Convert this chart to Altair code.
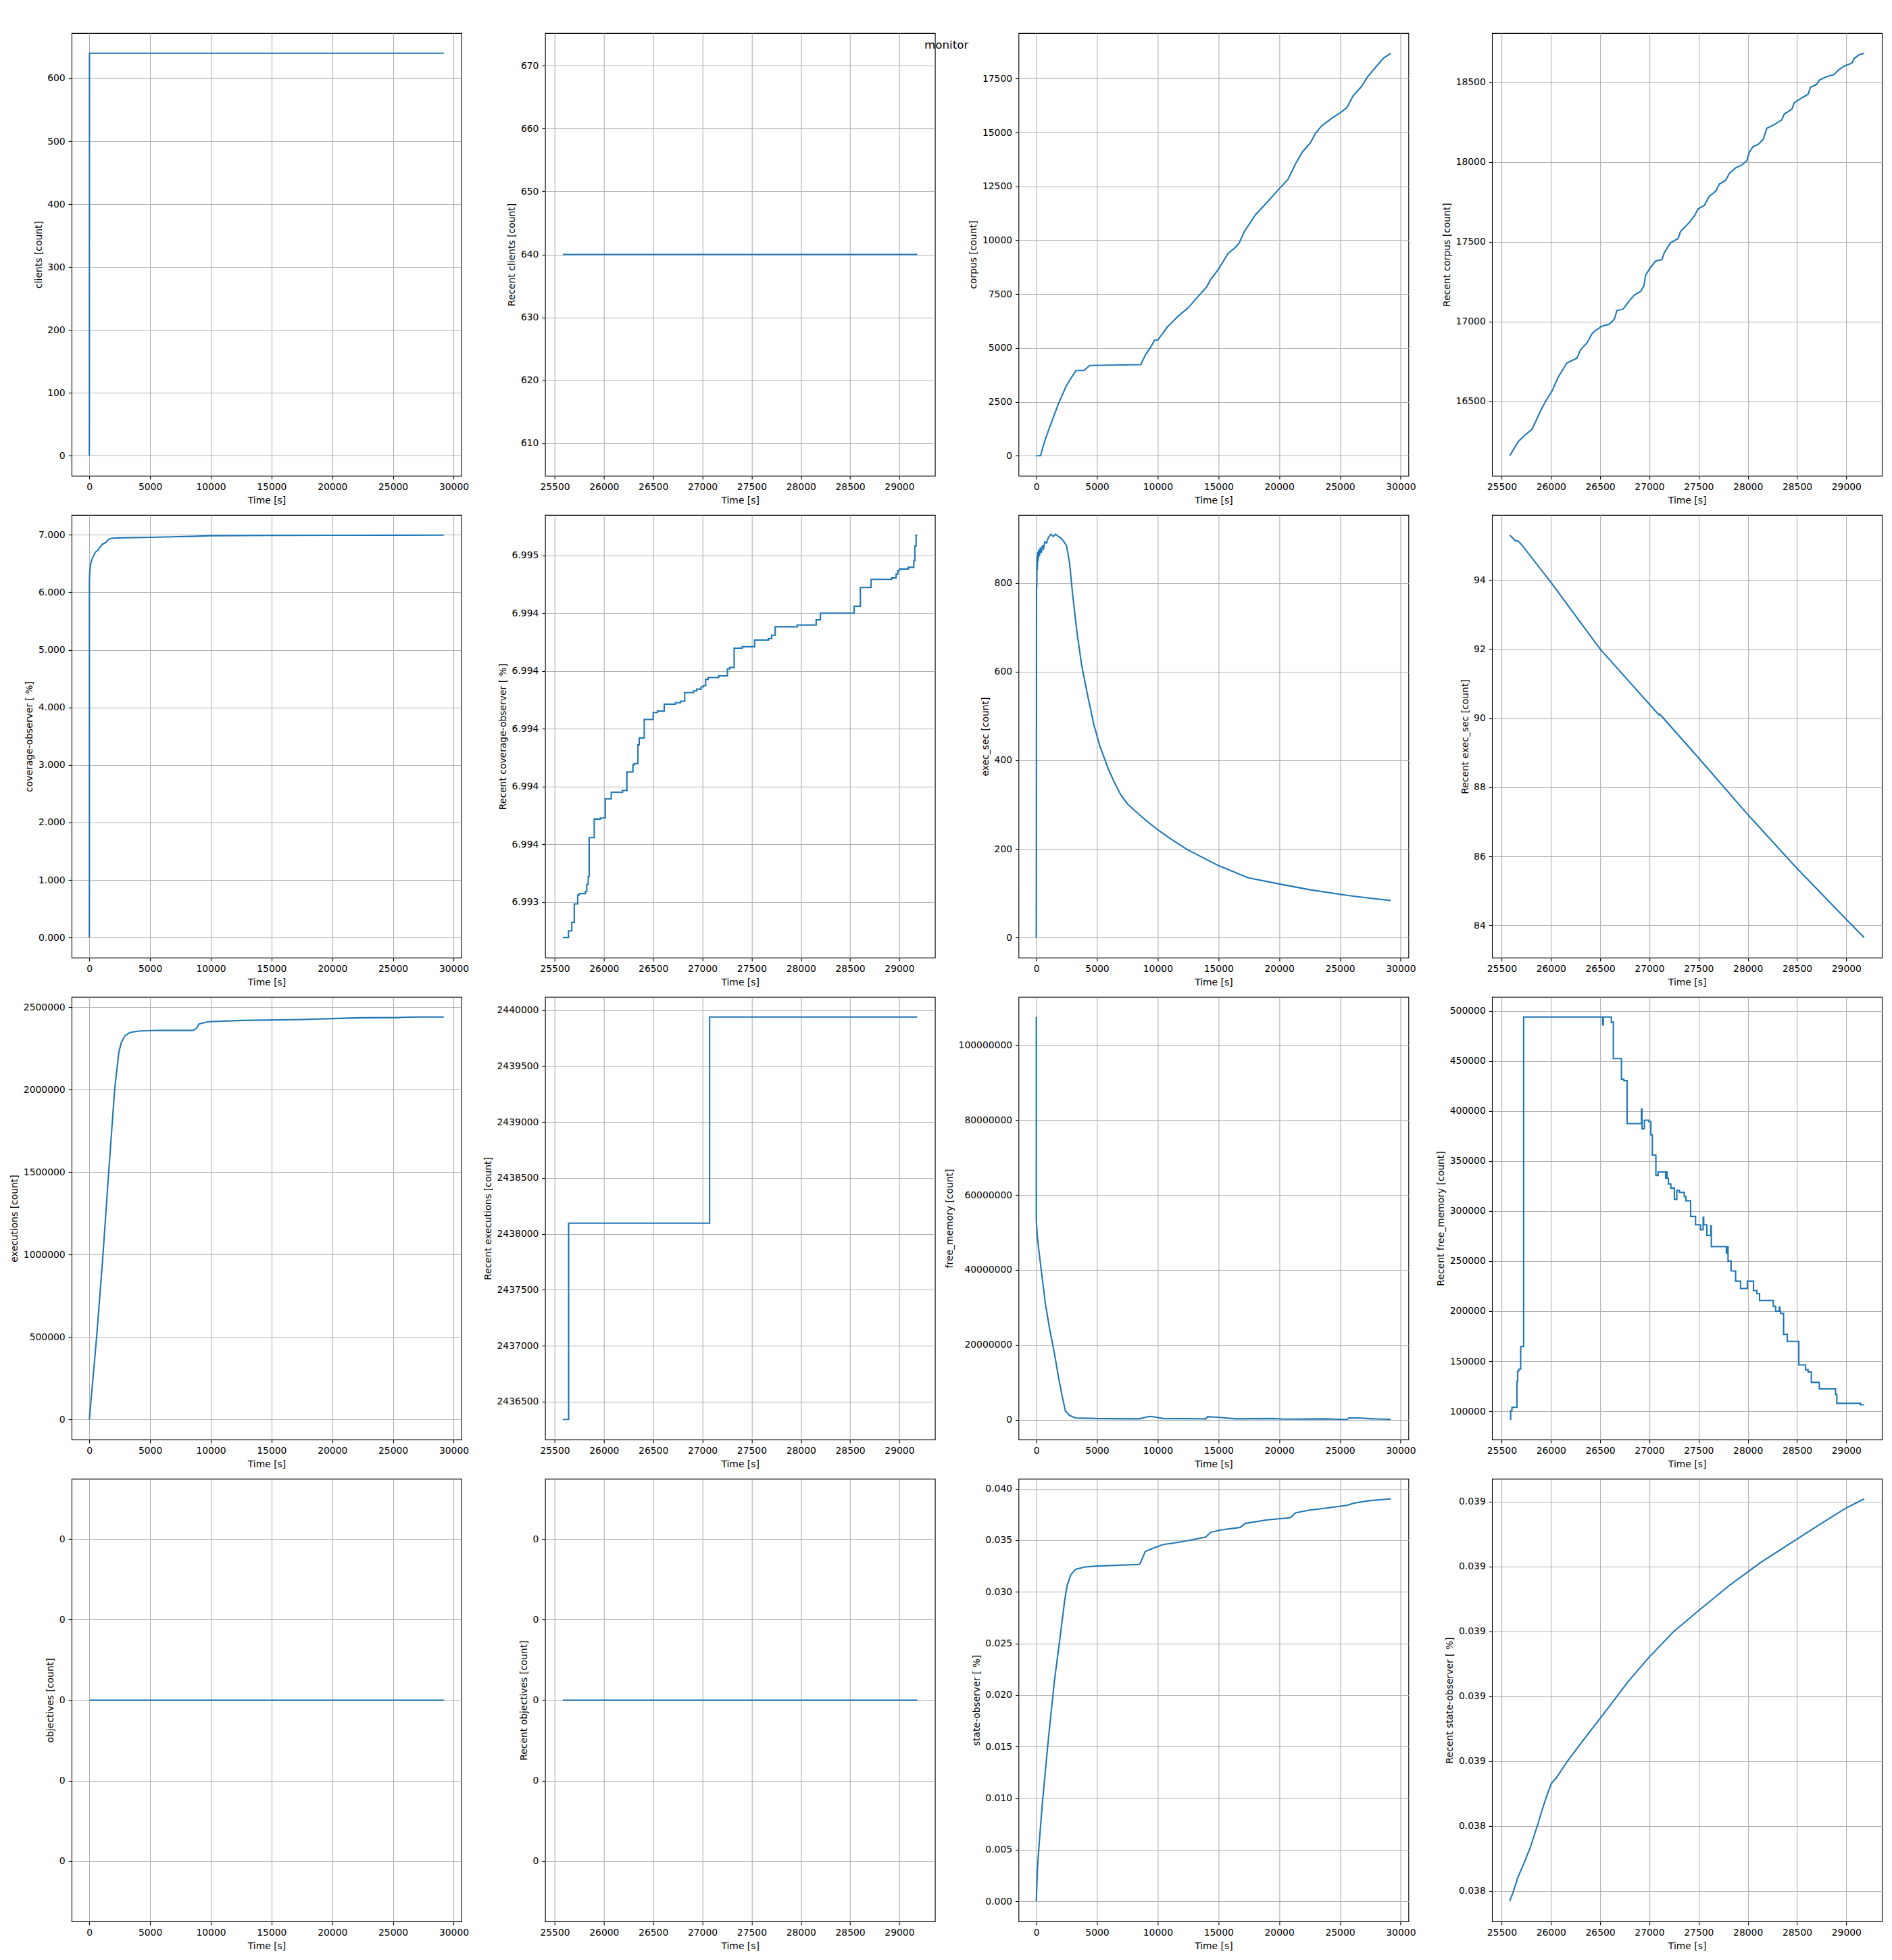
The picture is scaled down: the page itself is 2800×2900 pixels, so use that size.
import json
import altair as alt
import pandas as pd

BLUE = "#1f77b4"
SUPTITLE = "monitor"
X_TITLE = "Time [s]"

# ---------------- x axes ----------------
FULL_X_DOMAIN = [-1459.1, 30641.1]
FULL_X_TICKS = [0, 5000, 10000, 15000, 20000, 25000, 30000]
FULL_X_LABELS = ["0", "5000", "10000", "15000", "20000", "25000", "30000"]
RECENT_X_DOMAIN = [25402.0, 29362.0]
RECENT_X_TICKS = [25500, 26000, 26500, 27000, 27500, 28000, 28500, 29000]
RECENT_X_LABELS = ["25500", "26000", "26500", "27000", "27500", "28000", "28500", "29000"]

# ---------------- clients ----------------
clients_t = [0, 10, 29182]
clients_v = [0, 640, 640]
clients_ticks = [0, 100, 200, 300, 400, 500, 600]
clients_labels = ["0", "100", "200", "300", "400", "500", "600"]
clients_domain = [-32, 672]

rclients_t = [25582, 29182]
rclients_v = [640, 640]
rclients_ticks = [610, 620, 630, 640, 650, 660, 670]
rclients_labels = ["610", "620", "630", "640", "650", "660", "670"]
rclients_domain = [604.8, 675.2]

# ---------------- corpus ----------------
corpus_t = [0, 349, 677, 1109, 1827, 2443, 2854, 3264, 3921, 4393, 8602, 9013, 9423, 9731,
            9998, 10758, 11682, 12503, 13324, 14043, 14350, 14966, 15788, 16404, 16711,
            17122, 18046, 18867, 19996, 20715, 21331, 21946, 22562, 22973, 23486, 24410,
            25026, 25582, 26053, 26771, 27284, 28105, 28619, 29182]
corpus_v = [0, 0, 654, 1334, 2420, 3205, 3597, 3950, 3950, 4186, 4225, 4709, 5036, 5363,
            5363, 5951, 6475, 6867, 7390, 7848, 8175, 8633, 9378, 9679, 9875, 10399, 11183,
            11680, 12387, 12818, 13537, 14126, 14519, 14950, 15303, 15696, 15918, 16160,
            16677, 17135, 17593, 18142, 18469, 18681]
corpus_ticks = [0, 2500, 5000, 7500, 10000, 12500, 15000, 17500]
corpus_labels = ["0", "2500", "5000", "7500", "10000", "12500", "15000", "17500"]
corpus_domain = [-934, 19615]

rcorpus_t = [25582, 25668, 25731, 25807, 25845, 25896, 25947, 26010, 26074, 26162, 26264,
             26302, 26365, 26416, 26454, 26518, 26594, 26645, 26670, 26733, 26797, 26848,
             26911, 26944, 26962, 27000, 27063, 27127, 27152, 27216, 27292, 27317, 27406,
             27457, 27495, 27558, 27609, 27673, 27711, 27774, 27812, 27876, 27939, 27990,
             28015, 28053, 28104, 28155, 28193, 28269, 28345, 28370, 28447, 28472, 28561,
             28612, 28637, 28700, 28726, 28802, 28878, 28916, 28980, 29056, 29081, 29132,
             29182]
rcorpus_v = [16160, 16248, 16286, 16325, 16374, 16443, 16502, 16564, 16652, 16741, 16771,
             16824, 16865, 16922, 16945, 16971, 16984, 17016, 17069, 17078, 17131, 17166,
             17189, 17223, 17290, 17329, 17379, 17388, 17432, 17494, 17520, 17565, 17621,
             17662, 17706, 17728, 17786, 17816, 17862, 17884, 17928, 17963, 17981, 18008,
             18061, 18096, 18110, 18140, 18211, 18234, 18264, 18300, 18330, 18371, 18406,
             18424, 18468, 18486, 18512, 18535, 18548, 18574, 18601, 18619, 18649, 18672,
             18681]
rcorpus_ticks = [16500, 17000, 17500, 18000, 18500]
rcorpus_labels = ["16500", "17000", "17500", "18000", "18500"]
rcorpus_domain = [16034, 18807]

# ---------------- coverage-observer ----------------
cov_t = [0, 5, 30, 100, 250, 500, 700, 850, 1100, 1340, 1580, 1830, 2330, 5050, 8500,
         10000, 15000, 20000, 25582, 29182]
cov_v = [0, 6.19, 6.35, 6.487, 6.595, 6.70, 6.73, 6.78, 6.84, 6.865, 6.92, 6.94, 6.946,
         6.957, 6.973, 6.985, 6.990, 6.992, 6.99328, 6.99467]
cov_ticks = [0, 1, 2, 3, 4, 5, 6, 7]
cov_labels = ["0.000", "1.000", "2.000", "3.000", "4.000", "5.000", "6.000", "7.000"]
cov_domain = [-0.3497, 7.3444]

rcov_t = [25582, 25640, 25673, 25698, 25733, 25749, 25812, 25825, 25840, 25850, 25901,
          25964, 26013, 26074, 26188, 26233, 26294, 26307, 26345, 26358, 26409, 26500,
          26543, 26612, 26726, 26777, 26820, 26909, 26942, 26987, 27010, 27033, 27058,
          27165, 27254, 27277, 27322, 27404, 27530, 27670, 27703, 27739, 27962, 28155,
          28198, 28541, 28604, 28713, 28921, 28967, 28985, 29002, 29091, 29147, 29158,
          29170, 29182]
rcov_v = [6.993277, 6.993300, 6.993329, 6.993393, 6.993424, 6.993429, 6.993437, 6.993461,
          6.993488, 6.993623, 6.993687, 6.993691, 6.993757, 6.993780, 6.993786, 6.993850,
          6.993875, 6.993879, 6.993944, 6.993968, 6.994032, 6.994056, 6.994061, 6.994085,
          6.994090, 6.994095, 6.994125, 6.994131, 6.994137, 6.994145, 6.994149, 6.994171,
          6.994177, 6.994183, 6.994207, 6.994212, 6.994279, 6.994284, 6.994307, 6.994312,
          6.994324, 6.994353, 6.994359, 6.994377, 6.994400, 6.994424, 6.994489, 6.994517,
          6.994522, 6.994535, 6.994548, 6.994553, 6.994559, 6.994582, 6.994633, 6.994670,
          6.994670]
rcov_ticks = [6.9934, 6.9936, 6.9938, 6.9940, 6.9942, 6.9944, 6.9946]
rcov_labels = ["6.993", "6.994", "6.994", "6.994", "6.994", "6.994", "6.995"]
rcov_domain = [6.993207, 6.994740]

# ---------------- exec_sec ----------------
exec_t = [0, 20, 40, 60, 80, 120, 150, 200, 260, 330, 420, 500, 600, 700, 850, 1000,
          1200, 1400, 1600, 1800, 2000, 2200, 2492, 2741, 2990, 3339, 3737, 4236, 4734,
          5232, 5980, 6500, 6976, 7500, 8000, 8471, 9000, 9500, 9966, 11000, 12458, 14949,
          17441, 20000, 22500, 25582, 27500, 29182]
exec_v = [0, 796, 790, 860, 830, 870, 850, 875, 860, 880, 868, 885, 878, 893, 890, 903,
          910, 905, 910, 905, 902, 896, 884, 845, 775, 691, 614, 545, 481, 432, 377, 346,
          321, 302, 289, 278, 265, 254, 244, 224, 198, 163, 135, 121, 108, 95.3, 88.8,
          83.65]
exec_ticks = [0, 200, 400, 600, 800]
exec_labels = ["0", "200", "400", "600", "800"]
exec_domain = [-45.4, 953.4]

rexec_t = [25582, 25645, 25660, 25700, 26000, 26500, 27080, 27095, 27105, 27500, 28000,
           28500, 29000, 29182]
rexec_v = [95.30, 95.12, 95.14, 95.03, 93.93, 92.0, 90.15, 90.10, 90.12, 88.85, 87.21,
           85.65, 84.18, 83.65]
rexec_ticks = [84, 86, 88, 90, 92, 94]
rexec_labels = ["84", "86", "88", "90", "92", "94"]
rexec_domain = [83.07, 95.88]

# ---------------- executions ----------------
execs_t = [0, 596, 1093, 1589, 2086, 2434, 2633, 2931, 3328, 4073, 5563, 8543, 8800, 9040,
           9785, 12517, 17484, 19968, 22452, 25582, 25641, 27073, 29182]
execs_v = [0, 497000, 967600, 1494700, 2003000, 2228900, 2285400, 2326800, 2345600,
           2355000, 2358800, 2358800, 2370000, 2398300, 2411500, 2419000, 2424700, 2430300,
           2435500, 2436341, 2438096, 2439939, 2439939]
execs_ticks = [0, 500000, 1000000, 1500000, 2000000, 2500000]
execs_labels = ["0", "500000", "1000000", "1500000", "2000000", "2500000"]
execs_domain = [-121997, 2561937]

rexecs_t = [25582, 25641, 27073, 29182]
rexecs_v = [2436341, 2438096, 2439939, 2439939]
rexecs_ticks = [2436500, 2437000, 2437500, 2438000, 2438500, 2439000, 2439500, 2440000]
rexecs_labels = ["2436500", "2437000", "2437500", "2438000", "2438500", "2439000",
                 "2439500", "2440000"]
rexecs_domain = [2436161, 2440119]

# ---------------- free_memory ----------------
mem_t = [0, 1, 100, 249, 498, 747, 1096, 1495, 1844, 2143, 2392, 2741, 3239, 4983, 8471,
         8970, 9368, 9717, 10464, 13952, 14100, 14949, 16444, 19434, 20430, 23669, 25582,
         25740, 26600, 27500, 28500, 29182]
mem_v = [107500000, 53300000, 48300000, 44200000, 37600000, 31000000, 24300000, 17700000,
         11100000, 6100000, 2400000, 1160000, 500000, 330000, 250000, 660000, 900000,
         750000, 330000, 250000, 830000, 660000, 250000, 330000, 170000, 250000, 92000,
         494000, 494000, 290000, 170000, 107000]
mem_ticks = [0, 20000000, 40000000, 60000000, 80000000, 100000000]
mem_labels = ["0", "20000000", "40000000", "60000000", "80000000", "100000000"]
mem_domain = [-5280000, 112870000]

rmem_t = [25582, 25591, 25604, 25655, 25662, 25673, 25693, 25723, 26525, 26532, 26614,
          26634, 26716, 26741, 26774, 26919, 26925, 26949, 26995, 27015, 27030, 27066,
          27089, 27165, 27175, 27180, 27193, 27218, 27254, 27279, 27305, 27355, 27371,
          27419, 27469, 27520, 27546, 27552, 27584, 27624, 27629, 27782, 27790, 27799,
          27830, 27876, 27926, 27995, 28058, 28091, 28119, 28259, 28282, 28320, 28326,
          28332, 28363, 28401, 28518, 28586, 28612, 28645, 28726, 28891, 28904, 29145,
          29182]
rmem_v = [91800, 100550, 103940, 129900, 140100, 142100, 164700, 493800, 485900, 493800,
          488700, 452300, 431600, 430200, 387300, 402000, 382200, 390700, 389300, 376000,
          355900, 335600, 339000, 332800, 339000, 332800, 327100, 322900, 311600, 320600,
          318600, 314400, 310200, 294600, 286200, 281400, 293800, 286200, 275700, 285300,
          264400, 258000, 264400, 250000, 240100, 229900, 222600, 229900, 220600, 217500,
          210700, 204800, 200000, 204200, 200000, 197700, 176800, 169800, 146300, 141500,
          139300, 128800, 122300, 116700, 107900, 106500, 106500]
rmem_ticks = [100000, 150000, 200000, 250000, 300000, 350000, 400000, 450000, 500000]
rmem_labels = ["100000", "150000", "200000", "250000", "300000", "350000", "400000",
               "450000", "500000"]
rmem_domain = [71700, 513900]

# ---------------- objectives ----------------
obj_t = [0, 29182]
obj_v = [0, 0]
robj_t = [25582, 29182]
robj_v = [0, 0]
obj_ticks = [-0.04, -0.02, 0, 0.02, 0.04]
obj_labels = ["0", "0", "0", "0", "0"]
obj_domain = [-0.055, 0.055]

# ---------------- state-observer ----------------
state_t = [0, 100, 249, 498, 997, 1495, 1993, 2342, 2541, 2840, 3239, 3986, 4983, 8471,
           8571, 8970, 9717, 10464, 11959, 13952, 14351, 15198, 16793, 17192, 18935, 20929,
           21328, 22424, 23918, 25582, 26161, 27407, 29182]
state_v = [0, 0.00325, 0.00575, 0.0095, 0.01576, 0.02139, 0.02592, 0.02921, 0.03061,
           0.03164, 0.03218, 0.0324, 0.03249, 0.03265, 0.0328, 0.0339, 0.03427, 0.03458,
           0.03484, 0.0353, 0.03577, 0.03599, 0.03624, 0.03662, 0.03696, 0.03718, 0.03765,
           0.0379, 0.03812, 0.038384, 0.038596, 0.03883, 0.039004]
state_ticks = [0, 0.005, 0.010, 0.015, 0.020, 0.025, 0.030, 0.035, 0.040]
state_labels = ["0.000", "0.005", "0.010", "0.015", "0.020", "0.025", "0.030", "0.035",
                "0.040"]
state_domain = [-0.00195, 0.04095]

rstate_t = [25580, 25616, 25665, 25727, 25788, 25831, 25874, 25911, 25954, 26003, 26058,
            26168, 26291, 26444, 26597, 26781, 26996, 27241, 27517, 27823, 28130, 28436,
            28743, 28988, 29182]
rstate_v = [0.038384, 0.038398, 0.038421, 0.038443, 0.038466, 0.038486, 0.038506,
            0.038525, 0.038545, 0.038565, 0.038575, 0.038600, 0.038625, 0.038655, 0.038685,
            0.038722, 0.038760, 0.038799, 0.038834, 0.038872, 0.038906, 0.038936, 0.038966,
            0.038989, 0.039004]
rstate_ticks = [0.0384, 0.0385, 0.0386, 0.0387, 0.0388, 0.0389, 0.0390]
rstate_labels = ["0.038", "0.038", "0.039", "0.039", "0.039", "0.039", "0.039"]
rstate_domain = [0.038353, 0.039035]

PANEL_W = 577
PANEL_H = 655


def label_expr(values, labels):
    return f"{json.dumps(labels)}[indexof({json.dumps(values)}, datum.value)]"


def panel(t, v, ytitle, ydomain, yticks, ylabels, recent, step=False, extra=None):
    df = pd.DataFrame({"t": t, "v": v})
    if recent:
        xd, xt, xl = RECENT_X_DOMAIN, RECENT_X_TICKS, RECENT_X_LABELS
    else:
        xd, xt, xl = FULL_X_DOMAIN, FULL_X_TICKS, FULL_X_LABELS
    line = alt.Chart(df).mark_line(
        color=BLUE, strokeWidth=2.1, clip=True,
        interpolate="step-after" if step else "linear",
    ).encode(
        x=alt.X("t:Q", scale=alt.Scale(domain=xd, nice=False, zero=False),
                axis=alt.Axis(values=xt, labelExpr=label_expr(xt, xl), title=X_TITLE)),
        y=alt.Y("v:Q", scale=alt.Scale(domain=ydomain, nice=False, zero=False),
                axis=alt.Axis(values=yticks, labelExpr=label_expr(yticks, ylabels),
                              title=ytitle)),
    )
    ch = line if extra is None else alt.layer(line, extra)
    return ch.properties(width=PANEL_W, height=PANEL_H)


title_text = alt.Chart(pd.DataFrame({"s": [SUPTITLE]})).mark_text(
    font="DejaVu Sans", fontSize=16.7, color="black", align="center", baseline="top"
).encode(text="s:N", x=alt.value(594), y=alt.value(10))

panels = [
    panel(clients_t, clients_v, "clients [count]", clients_domain, clients_ticks, clients_labels, False),
    panel(rclients_t, rclients_v, "Recent clients [count]", rclients_domain, rclients_ticks, rclients_labels, True, extra=title_text),
    panel(corpus_t, corpus_v, "corpus [count]", corpus_domain, corpus_ticks, corpus_labels, False),
    panel(rcorpus_t, rcorpus_v, "Recent corpus [count]", rcorpus_domain, rcorpus_ticks, rcorpus_labels, True),
    panel(cov_t, cov_v, "coverage-observer [ %]", cov_domain, cov_ticks, cov_labels, False),
    panel(rcov_t, rcov_v, "Recent coverage-observer [ %]", rcov_domain, rcov_ticks, rcov_labels, True, step=True),
    panel(exec_t, exec_v, "exec_sec [count]", exec_domain, exec_ticks, exec_labels, False),
    panel(rexec_t, rexec_v, "Recent exec_sec [count]", rexec_domain, rexec_ticks, rexec_labels, True),
    panel(execs_t, execs_v, "executions [count]", execs_domain, execs_ticks, execs_labels, False),
    panel(rexecs_t, rexecs_v, "Recent executions [count]", rexecs_domain, rexecs_ticks, rexecs_labels, True, step=True),
    panel(mem_t, mem_v, "free_memory [count]", mem_domain, mem_ticks, mem_labels, False),
    panel(rmem_t, rmem_v, "Recent free_memory [count]", rmem_domain, rmem_ticks, rmem_labels, True, step=True),
    panel(obj_t, obj_v, "objectives [count]", obj_domain, obj_ticks, obj_labels, False),
    panel(robj_t, robj_v, "Recent objectives [count]", obj_domain, obj_ticks, obj_labels, True),
    panel(state_t, state_v, "state-observer [ %]", state_domain, state_ticks, state_labels, False),
    panel(rstate_t, rstate_v, "Recent state-observer [ %]", rstate_domain, rstate_ticks, rstate_labels, True),
]

chart = alt.concat(
    *panels, columns=4, spacing={"row": 58, "column": 123.7}, bounds="flush"
).properties(
    padding={"left": 6, "top": 40, "right": 5, "bottom": 5}
).configure_view(
    stroke="black", strokeWidth=1.1
).configure_axis(
    labelFont="DejaVu Sans", labelFontSize=13.9, labelColor="black",
    titleFont="DejaVu Sans", titleFontSize=13.9, titleFontWeight="normal", titleColor="black",
    tickColor="black", tickSize=4.9, tickWidth=1.1, labelPadding=4.9, titlePadding=5.6,
    domain=False, grid=True, gridColor="#b0b0b0", gridWidth=1.1, gridOpacity=1,
    labelFlush=False, labelOverlap=False,
)

chart.save("out.html", embed_options={"renderer": "svg", "actions": False})
